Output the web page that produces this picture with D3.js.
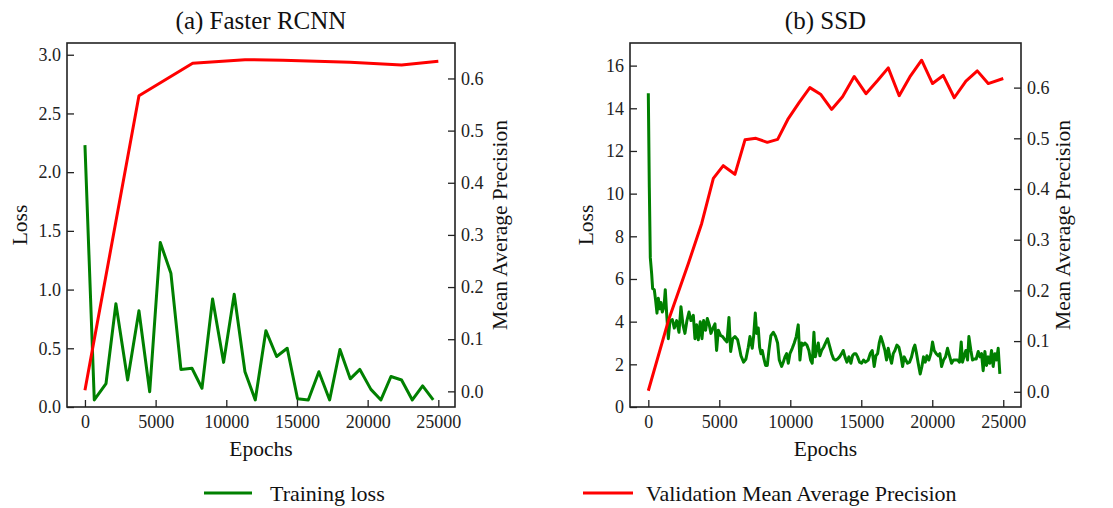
<!DOCTYPE html>
<html>
<head>
<meta charset="utf-8">
<script src="https://cdn.jsdelivr.net/npm/d3@7"></script>
<style>
  body { margin: 0; background: #fff; }
  svg, svg text { font-family: "Liberation Serif", "Times New Roman", serif; }
  .tick text { font-family: "Liberation Serif", "Times New Roman", serif; font-size: 18px; fill: #222; }
</style>
</head>
<body>
<svg width="1113" height="508"></svg>
<script>
var WIDTH = 1113;
var HEIGHT = 508;

//(a) Faster RCNN - training loss
var frcnnLossEpochs = [0, 660, 1490, 2190, 3020, 3820, 4580, 5330, 6080, 6790, 7570, 8280, 9030, 9810,
    10560, 11320, 12050, 12800, 13560, 14310, 15040, 15800, 16550, 17310, 18040, 18770, 19450,
    20230, 20940, 21650, 22400, 23160, 23890, 24640];
var frcnnLoss = [2.23, 0.06, 0.20, 0.88, 0.23, 0.82, 0.13, 1.40, 1.14, 0.32, 0.33, 0.16, 0.92, 0.38,
    0.96, 0.30, 0.06, 0.65, 0.43, 0.50, 0.07, 0.06, 0.30, 0.06, 0.49, 0.24, 0.32,
    0.15, 0.06, 0.26, 0.23, 0.06, 0.18, 0.06];

//(a) Faster RCNN - validation mAP
var frcnnMapEpochs = [0, 3820, 7620, 11320, 14000, 18750, 22400, 25000];
var frcnnMap = [0.002, 0.567, 0.629, 0.636, 0.635, 0.631, 0.626, 0.633];

//(b) SSD - training loss
var ssdLossEpochs = [0, 70, 140, 235, 305, 420, 515, 610, 705, 800, 890, 985, 1105, 1195, 1290, 1410,
    1525, 1690, 1830, 1995, 2160, 2300, 2440, 2580, 2720, 2865, 3005, 3170, 3285, 3405, 3520, 3660,
    3780, 3895, 4035, 4155, 4295, 4410, 4555, 4695, 4810, 4930, 5095, 5235, 5400, 5540, 5680, 5800,
    5940, 6100, 6290, 6405, 6525, 6710, 6875, 7040, 7160, 7320, 7415, 7535, 7630, 7745, 7840, 7935,
    8025, 8145, 8260, 8380, 8495, 8635, 8800, 8965, 9105, 9225, 9390, 9505, 9625, 9740, 9860, 9975,
    10140, 10280, 10420, 10560, 10680, 10795, 10915, 11030, 11170, 11310, 11430, 11545, 11665, 11760,
    11850, 11970, 12085, 12205, 12345, 12485, 12625, 12790, 12910, 13050, 13190, 13330, 13470, 13615,
    13730, 13850, 13990, 14130, 14270, 14385, 14505, 14620, 14740, 14880, 15020, 15160, 15300, 15490,
    15630, 15770, 15910, 16030, 16150, 16265, 16380, 16520, 16665, 16780, 16900, 17015, 17135, 17250,
    17370, 17510, 17650, 17790, 17910, 18025, 18140, 18260, 18400, 18540, 18680, 18775, 18895, 19010,
    19150, 19270, 19385, 19505, 19620, 19760, 19900, 20020, 20135, 20280, 20420, 20535, 20655, 20795,
    20935, 21075, 21215, 21360, 21500, 21640, 21780, 21920, 22040, 22130, 22250, 22365, 22485, 22580,
    22720, 22835, 22955, 23095, 23235, 23355, 23470, 23585, 23705, 23820, 23940, 24055, 24175, 24290,
    24410, 24525, 24645, 24760];
var ssdLoss = [14.7, 10.3, 7.0, 6.25, 5.55, 5.5, 5.0, 4.4, 5.1, 4.6, 4.9, 4.45, 4.7, 5.5, 4.4, 3.2,
    4.05, 4.1, 3.7, 4.05, 3.5, 4.7, 3.85, 3.45, 4.05, 4.45, 4.05, 4.3, 3.2, 3.85, 3.15, 4.0,
    3.2, 4.05, 3.6, 4.15, 3.85, 3.45, 3.7, 3.9, 2.65, 3.6, 3.35, 3.3, 3.15, 3.05, 4.2, 2.6,
    3.2, 3.3, 3.15, 2.8, 2.4, 2.1, 2.25, 2.8, 3.3, 2.75, 3.3, 4.4, 3.45, 3.7, 2.8, 2.5,
    2.65, 2.25, 1.95, 1.95, 2.65, 3.35, 3.5, 3.3, 3.0, 2.2, 1.9, 2.1, 2.35, 2.5, 2.05, 2.5,
    2.75, 3.0, 3.3, 3.85, 2.2, 3.0, 2.9, 3.0, 2.9, 2.65, 2.2, 2.05, 3.5, 2.35,
    2.65, 3.0, 2.4, 2.65, 2.8, 3.0, 3.2, 2.8, 2.5, 2.25, 2.2, 2.25, 2.35, 2.5,
    2.65, 2.35, 2.1, 2.35, 2.05, 2.4, 2.5, 2.5, 2.35, 2.1, 2.05, 2.2, 2.1, 2.2,
    2.5, 2.65, 1.9, 2.4, 2.5, 3.0, 3.3, 3.0, 2.65, 2.2, 2.75, 2.35, 2.05, 2.5,
    2.65, 2.9, 2.8, 2.4, 1.9, 2.35, 2.2, 2.05, 2.1, 2.35, 2.75, 2.9, 2.5, 2.05,
    1.55, 1.9, 2.35, 2.1, 2.4, 2.2, 2.5, 3.05, 2.65, 2.5, 2.4, 2.5, 1.9, 2.2,
    2.35, 2.75, 2.4, 2.05, 2.2, 2.2, 2.2, 2.1, 3.05, 2.1, 2.4, 2.65, 2.2, 3.3,
    2.65, 2.2, 2.25, 2.25, 2.6, 2.35, 2.5, 1.7, 2.6, 1.95, 2.35, 2.05, 2.65, 1.9,
    2.5, 2.2, 2.75, 1.55];

//(b) SSD - validation mAP
var ssdMapEpochs = [0, 1410, 2820, 3760, 4580, 5280, 6100, 6810, 7580, 8380, 9110, 9860, 10630, 11380,
    12130, 12910, 13680, 14500, 15330, 16150, 16900, 17670, 18420, 19250, 20020, 20770, 21550,
    22370, 23170, 23940, 25000];
var ssdMap = [0.002, 0.140, 0.253, 0.332, 0.421, 0.446, 0.429, 0.497, 0.500, 0.492, 0.498, 0.539, 0.571, 0.600,
    0.587, 0.557, 0.582, 0.622, 0.588, 0.614, 0.639, 0.584, 0.621, 0.654, 0.608, 0.624, 0.580,
    0.613, 0.633, 0.608, 0.618];

var epochTicks = [0, 5000, 10000, 15000, 20000, 25000];
var mapTicks = [0.0, 0.1, 0.2, 0.3, 0.4, 0.5, 0.6];
var frcnnLossTicks = [0.0, 0.5, 1.0, 1.5, 2.0, 2.5, 3.0];
var ssdLossTicks = [0, 2, 4, 6, 8, 10, 12, 14, 16];

var GREEN = "#008000";
var RED = "#ff0000";
var FONT = "'Liberation Serif', 'Times New Roman', serif";

var svg = d3.select("svg");

function zip(xs, ys) {
    return xs.map(function(x, i) { return {x: x, y: ys[i]}; });
}

function drawPanel(p) {
    var g = svg.append("g");
    var x = d3.scaleLinear().domain(p.xDomain).range([p.left, p.right]);
    var yL = d3.scaleLinear().domain(p.lossDomain).range([p.bottom, p.top]);
    var yR = d3.scaleLinear().domain(p.mapDomain).range([p.bottom, p.top]);

    //axes with inward ticks
    var ax = g.append("g").attr("transform", "translate(0," + p.bottom + ")")
        .call(d3.axisBottom(x).tickValues(epochTicks).tickFormat(d3.format("d")).tickSize(-7).tickPadding(8));
    var al = g.append("g").attr("transform", "translate(" + p.left + ",0)")
        .call(d3.axisLeft(yL).tickValues(p.lossTicks).tickFormat(p.lossFormat).tickSize(-7).tickPadding(6));
    var ar = g.append("g").attr("transform", "translate(" + p.right + ",0)")
        .call(d3.axisRight(yR).tickValues(mapTicks).tickFormat(d3.format(".1f")).tickSize(-7).tickPadding(6));
    [ax, al, ar].forEach(function(a) {
        a.attr("font-family", FONT).attr("font-size", 18);
        a.select(".domain").remove();
        a.selectAll(".tick line").attr("stroke", "#222").attr("stroke-width", 1.3);
        a.selectAll(".tick text").style("font-family", FONT).attr("fill", "#222");
    });

    var line = function(sc) {
        return d3.line().x(function(d) { return x(d.x); }).y(function(d) { return sc(d.y); });
    };

    g.append("path").datum(zip(p.lossX, p.lossY))
        .attr("fill", "none").attr("stroke", GREEN).attr("stroke-width", 3)
        .attr("stroke-linejoin", "round").attr("d", line(yL));
    g.append("path").datum(zip(p.mapX, p.mapY))
        .attr("fill", "none").attr("stroke", RED).attr("stroke-width", 3)
        .attr("stroke-linejoin", "round").attr("d", line(yR));

    //frame
    g.append("rect").attr("x", p.left).attr("y", p.top)
        .attr("width", p.right - p.left).attr("height", p.bottom - p.top)
        .attr("fill", "none").attr("stroke", "#222").attr("stroke-width", 1.6);

    var cx = (p.left + p.right) / 2, cy = (p.top + p.bottom) / 2;
    g.append("text").attr("x", cx).attr("y", 29).attr("text-anchor", "middle")
        .attr("font-size", 25).attr("fill", "#111").text(p.title);
    g.append("text").attr("x", cx).attr("y", 456).attr("text-anchor", "middle")
        .attr("font-size", 21.5).attr("fill", "#111").text("Epochs");
    g.append("text").attr("transform", "translate(" + p.lossLabelX + "," + cy + ") rotate(-90)")
        .attr("text-anchor", "middle").attr("font-size", 21.5).attr("fill", "#111").text("Loss");
    g.append("text").attr("transform", "translate(" + p.mapLabelX + "," + cy + ") rotate(-90)")
        .attr("text-anchor", "middle").attr("font-size", 21.5).attr("fill", "#111").text("Mean Average Precision");
}

drawPanel({
    title: "(a) Faster RCNN",
    left: 67, right: 455, top: 43, bottom: 407,
    xDomain: [-1270, 26180], lossDomain: [0, 3.1], mapDomain: [-0.03, 0.668],
    lossTicks: frcnnLossTicks, lossFormat: d3.format(".1f"),
    lossX: frcnnLossEpochs, lossY: frcnnLoss, mapX: frcnnMapEpochs, mapY: frcnnMap,
    lossLabelX: 27, mapLabelX: 507
});

drawPanel({
    title: "(b) SSD",
    left: 630, right: 1021, top: 43, bottom: 407,
    xDomain: [-1290, 26250], lossDomain: [0, 17.06], mapDomain: [-0.03, 0.688],
    lossTicks: ssdLossTicks, lossFormat: d3.format("d"),
    lossX: ssdLossEpochs, lossY: ssdLoss, mapX: ssdMapEpochs, mapY: ssdMap,
    lossLabelX: 593, mapLabelX: 1070
});

//legend
var legendItems = [
    {label: "Training loss", color: GREEN, x0: 204, x1: 252, tx: 270},
    {label: "Validation Mean Average Precision", color: RED, x0: 583, x1: 633, tx: 646}
];
var legend = svg.append("g");
legendItems.forEach(function(d) {
    legend.append("line").attr("x1", d.x0).attr("x2", d.x1).attr("y1", 493).attr("y2", 493)
        .attr("stroke", d.color).attr("stroke-width", 3);
    legend.append("text").attr("x", d.tx).attr("y", 501).attr("font-size", 22)
        .attr("fill", "#111").text(d.label);
});
</script>
</body>
</html>
